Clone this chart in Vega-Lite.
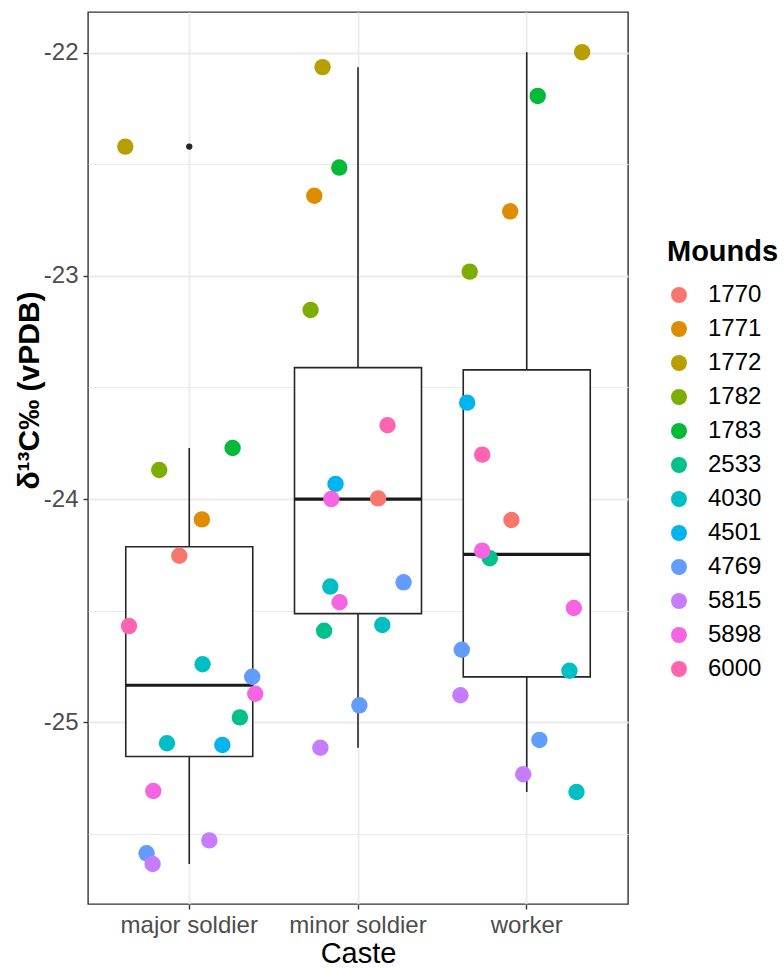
{
  "$schema": "https://vega.github.io/schema/vega-lite/v6.json",
  "width": 540,
  "height": 892,
  "autosize": {"type": "none"},
  "padding": {"left": 88, "top": 12, "right": 156, "bottom": 65},
  "background": "white",
  "config": {
    "font": "Liberation Sans",
    "view": {"stroke": "#333333", "strokeWidth": 1.4}
  },
  "data": {
    "values": [
      {"caste": "major soldier", "mound": "1770", "d13C": -24.254, "jitter": -0.059},
      {"caste": "major soldier", "mound": "1771", "d13C": -24.091, "jitter": 0.075},
      {"caste": "major soldier", "mound": "1772", "d13C": -22.421, "jitter": -0.379},
      {"caste": "major soldier", "mound": "1782", "d13C": -23.870, "jitter": -0.178},
      {"caste": "major soldier", "mound": "1783", "d13C": -23.771, "jitter": 0.257},
      {"caste": "major soldier", "mound": "2533", "d13C": -24.978, "jitter": 0.300},
      {"caste": "major soldier", "mound": "4030", "d13C": -24.740, "jitter": 0.079},
      {"caste": "major soldier", "mound": "4030", "d13C": -25.094, "jitter": -0.132},
      {"caste": "major soldier", "mound": "4501", "d13C": -25.102, "jitter": 0.196},
      {"caste": "major soldier", "mound": "4769", "d13C": -24.796, "jitter": 0.373},
      {"caste": "major soldier", "mound": "4769", "d13C": -25.587, "jitter": -0.253},
      {"caste": "major soldier", "mound": "5815", "d13C": -25.529, "jitter": 0.119},
      {"caste": "major soldier", "mound": "5815", "d13C": -25.635, "jitter": -0.217},
      {"caste": "major soldier", "mound": "5898", "d13C": -24.872, "jitter": 0.391},
      {"caste": "major soldier", "mound": "5898", "d13C": -25.308, "jitter": -0.213},
      {"caste": "major soldier", "mound": "6000", "d13C": -24.569, "jitter": -0.357},
      {"caste": "minor soldier", "mound": "1770", "d13C": -23.997, "jitter": 0.119},
      {"caste": "minor soldier", "mound": "1771", "d13C": -22.641, "jitter": -0.259},
      {"caste": "minor soldier", "mound": "1772", "d13C": -22.065, "jitter": -0.210},
      {"caste": "minor soldier", "mound": "1782", "d13C": -23.153, "jitter": -0.281},
      {"caste": "minor soldier", "mound": "1783", "d13C": -22.515, "jitter": -0.111},
      {"caste": "minor soldier", "mound": "2533", "d13C": -24.590, "jitter": -0.201},
      {"caste": "minor soldier", "mound": "4030", "d13C": -24.392, "jitter": -0.164},
      {"caste": "minor soldier", "mound": "4030", "d13C": -24.564, "jitter": 0.144},
      {"caste": "minor soldier", "mound": "4501", "d13C": -23.932, "jitter": -0.133},
      {"caste": "minor soldier", "mound": "4769", "d13C": -24.373, "jitter": 0.270},
      {"caste": "minor soldier", "mound": "4769", "d13C": -24.924, "jitter": 0.008},
      {"caste": "minor soldier", "mound": "5815", "d13C": -25.114, "jitter": -0.223},
      {"caste": "minor soldier", "mound": "5898", "d13C": -24.000, "jitter": -0.158},
      {"caste": "minor soldier", "mound": "5898", "d13C": -24.462, "jitter": -0.109},
      {"caste": "minor soldier", "mound": "6000", "d13C": -23.669, "jitter": 0.175},
      {"caste": "worker", "mound": "1770", "d13C": -24.094, "jitter": -0.091},
      {"caste": "worker", "mound": "1771", "d13C": -22.711, "jitter": -0.098},
      {"caste": "worker", "mound": "1772", "d13C": -21.998, "jitter": 0.328},
      {"caste": "worker", "mound": "1782", "d13C": -22.981, "jitter": -0.338},
      {"caste": "worker", "mound": "1783", "d13C": -22.194, "jitter": 0.065},
      {"caste": "worker", "mound": "2533", "d13C": -24.265, "jitter": -0.219},
      {"caste": "worker", "mound": "4030", "d13C": -24.769, "jitter": 0.253},
      {"caste": "worker", "mound": "4030", "d13C": -25.312, "jitter": 0.295},
      {"caste": "worker", "mound": "4501", "d13C": -23.568, "jitter": -0.353},
      {"caste": "worker", "mound": "4769", "d13C": -24.675, "jitter": -0.385},
      {"caste": "worker", "mound": "4769", "d13C": -25.079, "jitter": 0.075},
      {"caste": "worker", "mound": "5815", "d13C": -24.879, "jitter": -0.393},
      {"caste": "worker", "mound": "5815", "d13C": -25.233, "jitter": -0.021},
      {"caste": "worker", "mound": "5898", "d13C": -24.231, "jitter": -0.264},
      {"caste": "worker", "mound": "5898", "d13C": -24.488, "jitter": 0.279},
      {"caste": "worker", "mound": "6000", "d13C": -23.801, "jitter": -0.264}
    ]
  },
  "layer": [
    {
      "mark": {
        "type": "boxplot",
        "extent": 1.5,
        "size": 127,
        "box": {"fill": "white", "stroke": "#262626", "strokeWidth": 1.6},
        "median": {"color": "#1a1a1a", "opacity": 1, "thickness": 3.2},
        "rule": {"color": "#262626", "strokeWidth": 1.6, "opacity": 1},
        "outliers": {"color": "#262626", "size": 40, "filled": true, "opacity": 1}
      },
      "encoding": {
        "x": {
          "field": "caste",
          "type": "nominal",
          "scale": {"paddingInner": 0, "paddingOuter": 0.1},
          "axis": {
            "title": "Caste",
            "titleFontSize": 29,
            "titleFontWeight": "normal",
            "titleColor": "black",
            "titleY": 58,
            "titleBaseline": "alphabetic",
            "labelFontSize": 24,
            "labelColor": "#4D4D4D",
            "labelAngle": 0,
            "labelBaseline": "alphabetic",
            "labelPadding": 23,
            "tickSize": 5,
            "tickColor": "#333333",
            "tickWidth": 1.4,
            "domain": false,
            "grid": true,
            "gridColor": "#EBEBEB",
            "gridWidth": 1.8,
            "bandPosition": 0.5
          }
        },
        "y": {
          "field": "d13C",
          "type": "quantitative",
          "scale": {"domain": [-25.814, -21.818], "nice": false, "zero": false},
          "axis": {
            "title": "δ¹³C‰ (vPDB)",
            "titleFontSize": 30,
            "titleFontWeight": "bold",
            "titleColor": "black",
            "titleAngle": -90,
            "titleX": -59,
            "titleY": 378,
            "titleAlign": "center",
            "titleBaseline": "middle",
            "values": [-25.5, -25, -24.5, -24, -23.5, -23, -22.5, -22],
            "labelExpr": "datum.value % 1 === 0 ? '' + datum.value : ''",
            "labelFontSize": 24,
            "labelColor": "#4D4D4D",
            "labelPadding": 5,
            "tickSize": 5,
            "tickColor": "#333333",
            "tickWidth": 1.4,
            "tickOpacity": {"condition": {"test": "datum.value % 1 !== 0", "value": 0}, "value": 1},
            "grid": true,
            "gridColor": "#EBEBEB",
            "gridWidth": {"condition": {"test": "datum.value % 1 !== 0", "value": 1}, "value": 1.8},
            "domain": false
          }
        }
      }
    },
    {
      "mark": {"type": "circle", "size": 270, "opacity": 1},
      "encoding": {
        "x": {"field": "caste", "type": "nominal"},
        "xOffset": {"field": "jitter", "type": "quantitative", "scale": {"domain": [-0.5, 0.5]}},
        "y": {"field": "d13C", "type": "quantitative"},
        "color": {
          "field": "mound",
          "type": "nominal",
          "title": "Mounds",
          "scale": {
            "domain": ["1770", "1771", "1772", "1782", "1783", "2533", "4030", "4501", "4769", "5815", "5898", "6000"],
            "range": ["#F8766D", "#DE8C00", "#B79F00", "#7CAE00", "#00BA38", "#00C08B", "#00BFC4", "#00B4F0", "#619CFF", "#C77CFF", "#F564E3", "#FF64B0"]
          },
          "legend": {
            "orient": "none",
            "legendX": 579,
            "legendY": 226,
            "padding": 0,
            "titleFontSize": 29,
            "titleFontWeight": "bold",
            "titleColor": "black",
            "titlePadding": 16,
            "labelFontSize": 24,
            "labelColor": "black",
            "labelOffset": 17,
            "symbolType": "circle",
            "symbolSize": 255,
            "symbolStrokeWidth": 0,
            "symbolOpacity": 1,
            "rowPadding": 10
          }
        }
      }
    }
  ]
}
